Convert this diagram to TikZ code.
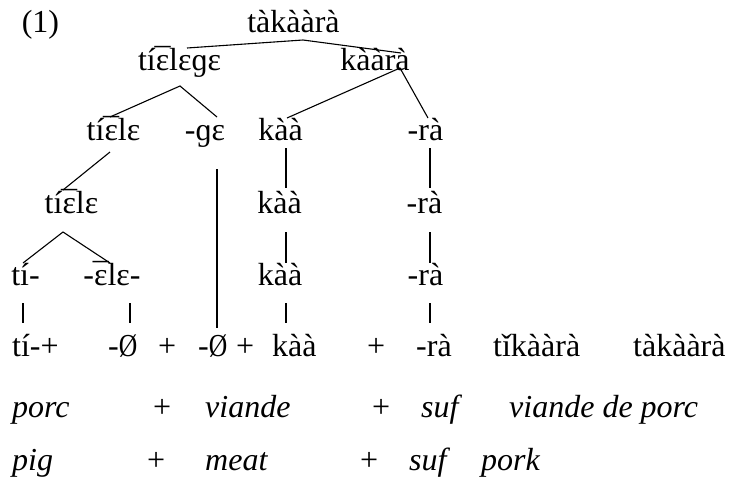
\documentclass[tikz,border=0pt]{standalone}
\usepackage{fontspec}
\usepackage{graphicx}
\setmainfont{Liberation Serif}
% narrow null sign and open e with macron
\newcommand{\nullsign}{\scalebox{0.8}[1]{Ø}}
\newcommand{\emac}{\accent"AF ɛ}
\begin{document}
\begin{tikzpicture}[x=1pt,y=-1pt,
  every node/.style={inner sep=0pt, font=\fontsize{32}{38}\selectfont},
  word/.style={anchor=base},
  wl/.style={anchor=base west},
  gloss/.style={anchor=base west, font=\fontsize{32}{38}\selectfont\itshape},
  branch/.style={line width=1.1pt}]
\useasboundingbox (0,0) rectangle (729,479);

% example number
\node[word] (num) at (40.5,32) {(1)};

% tree, top to bottom
\node[word] (r1) at (293.5,32) {tàkààrà};
\node[word] (a)  at (179.5,70) {tí\emac lɛɡɛ};
\node[word] (b)  at (375,70)   {kààrà};
\node[word] (c)  at (113.5,140) {tí\emac lɛ};
\node[word] (d)  at (205,140)   {-ɡɛ};
\node[word] (e)  at (280.5,140) {kàà};
\node[word] (f)  at (425.5,140) {-rà};
\node[word] (g)  at (71.5,213)  {tí\emac lɛ};
\node[word] (h)  at (279.5,213) {kàà};
\node[word] (i)  at (424.5,213) {-rà};
\node[word] (j)  at (25.5,285)  {tí-};
\node[word] (k)  at (112,285)   {-\emac lɛ-};
\node[word] (l)  at (280,285)   {kàà};
\node[word] (m)  at (425.5,285) {-rà};

% surface line
\node[wl] (s1)  at (12,356)  {tí-+};
\node[wl] (s2)  at (108,356) {-\nullsign};
\node[wl] (s3)  at (158,356) {+};
\node[wl] (s4)  at (198,356) {-\nullsign};
\node[wl] (s5)  at (236,356) {+};
\node[wl] (s6)  at (272,356) {kàà};
\node[wl] (s7)  at (367,356) {+};
\node[wl] (s8)  at (416,356) {-rà};
\node[wl] (s9)  at (493,356) {tǐkààrà};
\node[wl] (s10) at (633,356) {tàkààrà};

% French gloss
\node[gloss] (fr1) at (12,417)  {porc};
\node[wl]    (fr2) at (153,417) {+};
\node[gloss] (fr3) at (205,417) {viande};
\node[wl]    (fr4) at (372,417) {+};
\node[gloss] (fr5) at (421,417) {suf};
\node[gloss] (fr6) at (509,417) {viande de porc};

% English gloss
\node[gloss] (en1) at (12,470)  {pig};
\node[wl]    (en2) at (147,470) {+};
\node[gloss] (en3) at (205,470) {meat};
\node[wl]    (en4) at (360,470) {+};
\node[gloss] (en5) at (409,470) {suf};
\node[gloss] (en6) at (481,470) {pork};

% branches
\draw[branch] ([xshift=7.5pt,yshift=22pt]a.base) -- ([xshift=9.5pt,yshift=-8pt]r1.base)
              -- ([xshift=26pt,yshift=17pt]b.base);
\draw[branch] ([xshift=-3.5pt,yshift=23pt]c.base) -- ([xshift=0.5pt,yshift=-16pt]a.base)
              -- ([xshift=12pt,yshift=23pt]d.base);
\draw[branch] ([xshift=6.5pt,yshift=22pt]e.base) -- ([xshift=25pt,yshift=2pt]b.base)
              -- ([xshift=2.5pt,yshift=22pt]f.base);
\draw[branch] ([xshift=-3.5pt,yshift=-12pt]c.base) -- ([xshift=-8.5pt,yshift=23pt]g.base);
\draw[branch] ([xshift=5.5pt,yshift=-8pt]e.base) -- ([xshift=6.5pt,yshift=25pt]h.base);
\draw[branch] ([xshift=4.5pt,yshift=-8pt]f.base) -- ([xshift=5.5pt,yshift=25pt]i.base);
\draw[branch] ([xshift=-2.5pt,yshift=22pt]j.base) -- ([xshift=-8.5pt,yshift=-19pt]g.base)
              -- ([xshift=-2pt,yshift=22pt]k.base);
\draw[branch] ([xshift=6.5pt,yshift=-19pt]h.base) -- ([xshift=6pt,yshift=22pt]l.base);
\draw[branch] ([xshift=5.5pt,yshift=-19pt]i.base) -- ([xshift=4.5pt,yshift=22pt]m.base);

% links down to the surface line
\draw[branch] ([xshift=-2.5pt,yshift=-18pt]j.base) -- ([xshift=11pt,yshift=33pt]s1.base west);
\draw[branch] ([xshift=18pt,yshift=-18pt]k.base) -- ([xshift=22pt,yshift=33pt]s2.base west);
\draw[branch] ([xshift=12pt,yshift=-29pt]d.base) -- ([xshift=19pt,yshift=28pt]s4.base west);
\draw[branch] ([xshift=6pt,yshift=-18pt]l.base) -- ([xshift=14pt,yshift=33pt]s6.base west);
\draw[branch] ([xshift=4.5pt,yshift=-18pt]m.base) -- ([xshift=14pt,yshift=33pt]s8.base west);
\end{tikzpicture}
\end{document}
